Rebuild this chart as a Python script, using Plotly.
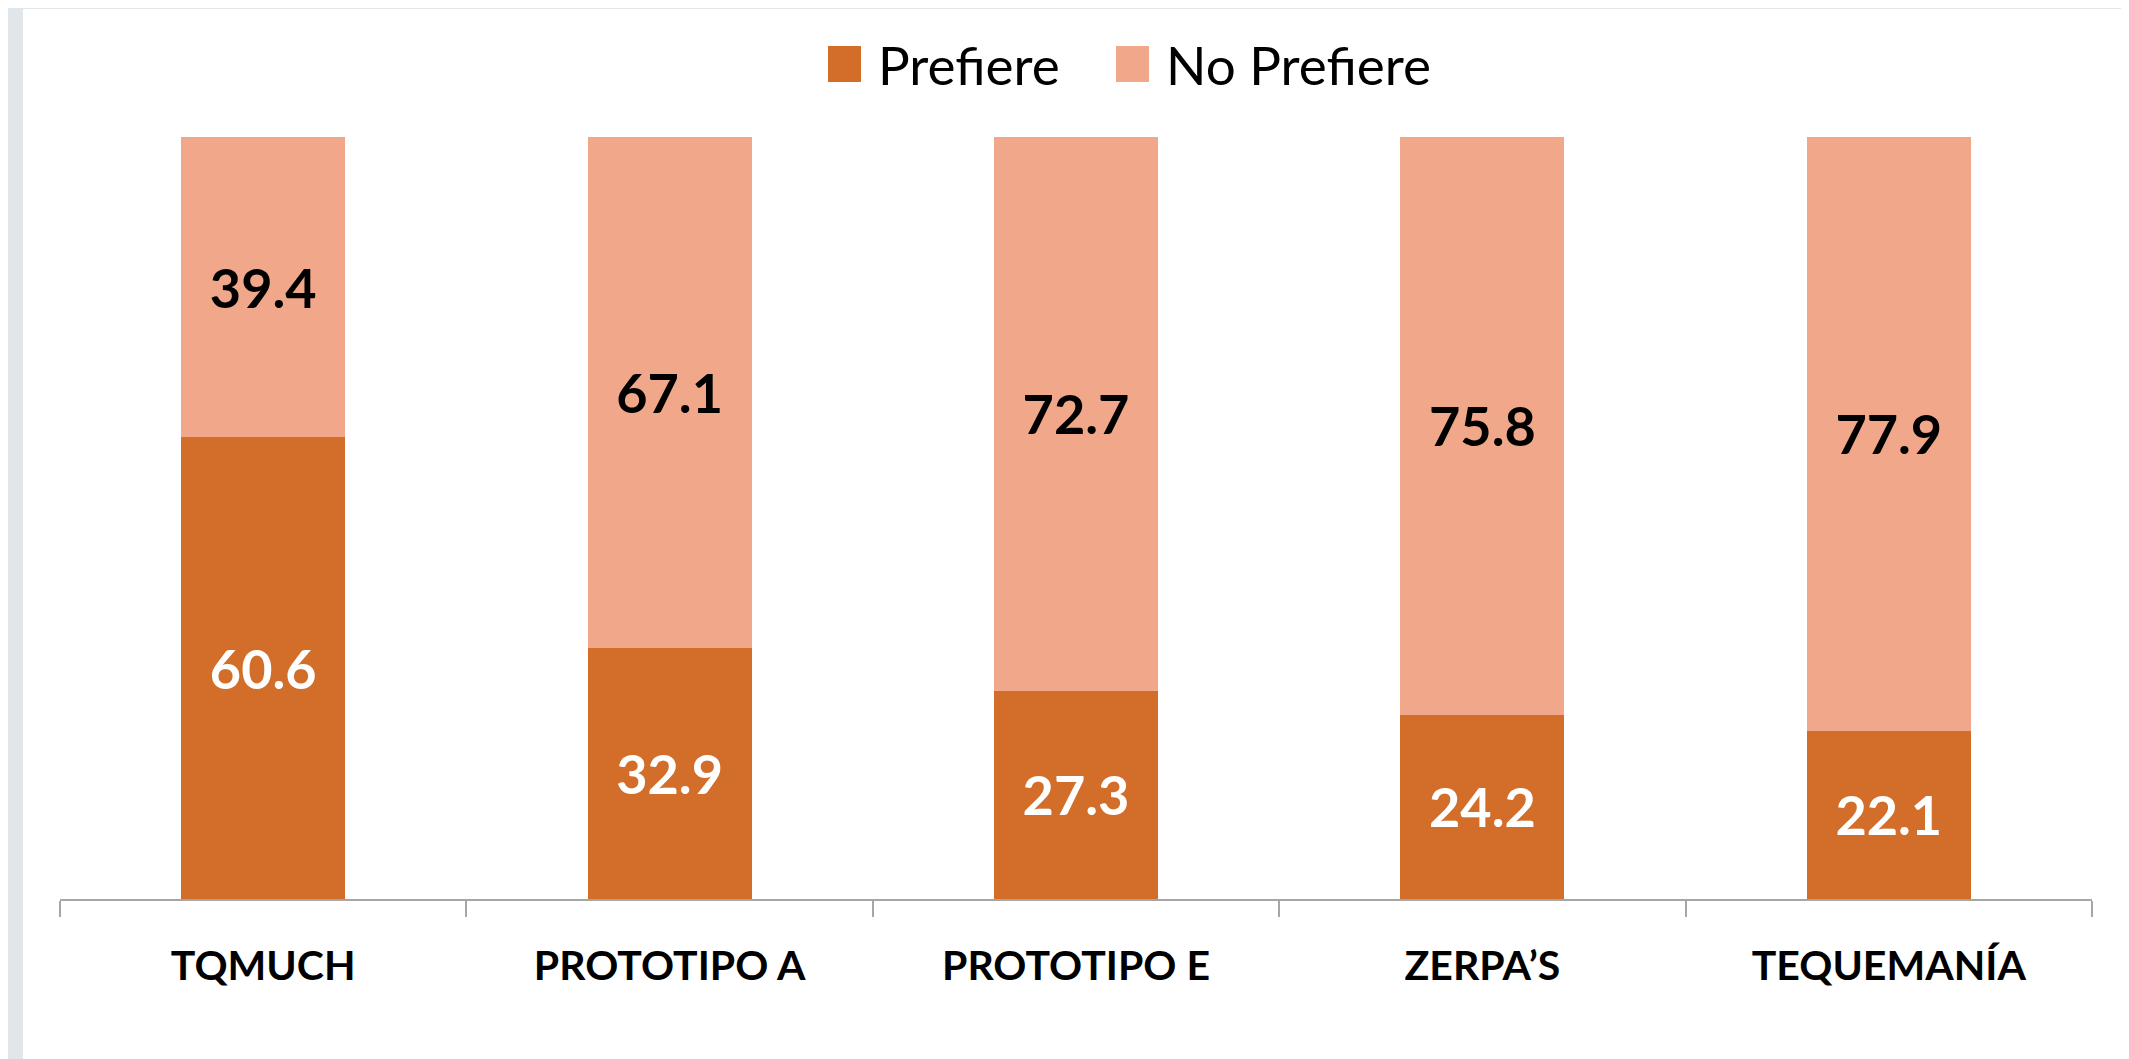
import plotly.graph_objects as go

categories = ["TQMUCH", "PROTOTIPO A", "PROTOTIPO E", "ZERPA’S", "TEQUEMANÍA"]
prefiere = [60.6, 32.9, 27.3, 24.2, 22.1]
no_prefiere = [39.4, 67.1, 72.7, 75.8, 77.9]
series_names = ["Prefiere", "No Prefiere"]

C_DARK = "#D26D2A"
C_LIGHT = "#F0A78A"
FONT = "Lato, 'Open Sans', sans-serif"

# page body has an 8px default margin, so the figure is sized to fit the window
W, H = 2121, 1051
ML, MR, MT, MB = 52, 37, 129, 160
pw, ph = W - ML - MR, H - MT - MB


def px(fx):
    return (fx - ML) / pw


def py(fy):
    return 1 + (MT - fy) / ph


fig = go.Figure()
fig.add_trace(go.Bar(
    x=categories, y=prefiere, name=series_names[0],
    marker=dict(color=C_DARK, line=dict(width=0)),
    text=[f"{v:.1f}" for v in prefiere], textposition="inside",
    insidetextanchor="middle", constraintext="none",
    textfont=dict(family=FONT, size=54, color="white", weight="bold"),
    showlegend=False,
))
fig.add_trace(go.Bar(
    x=categories, y=no_prefiere, name=series_names[1],
    marker=dict(color=C_LIGHT, line=dict(width=0)),
    text=[f"{v:.1f}" for v in no_prefiere], textposition="inside",
    insidetextanchor="middle", constraintext="none",
    textfont=dict(family=FONT, size=54, color="black", weight="bold"),
    showlegend=False,
))

# gray frame strips (top and left)
fig.add_shape(type="rect", xref="paper", yref="paper",
              x0=px(-10), x1=px(W + 10), y0=py(1), y1=py(-10),
              fillcolor="#E1E6EA", line=dict(width=0), layer="below")
fig.add_shape(type="rect", xref="paper", yref="paper",
              x0=px(-10), x1=px(15), y0=py(H + 10), y1=py(-10),
              fillcolor="#E1E6EA", line=dict(width=0), layer="below")

# legend (square swatches + labels)
legend_items = [(series_names[0], C_DARK, 820), (series_names[1], C_LIGHT, 1108)]
for name, col, sx in legend_items:
    fig.add_shape(type="rect", xref="paper", yref="paper",
                  x0=px(sx), x1=px(sx + 33), y0=py(74), y1=py(38),
                  fillcolor=col, line=dict(width=0))
    fig.add_annotation(xref="paper", yref="paper", x=px(sx + 48), y=py(57),
                       xanchor="left", yanchor="middle", showarrow=False,
                       text=name, font=dict(family=FONT, size=53, color="black"))

fig.update_layout(
    width=W, height=H,
    margin=dict(l=ML, r=MR, t=MT, b=MB, pad=0),
    barmode="stack", bargap=0.596,
    paper_bgcolor="white", plot_bgcolor="white",
    font=dict(family=FONT, color="black"),
    showlegend=False,
    xaxis=dict(showline=True, linecolor="#A6A6A6", linewidth=2,
               ticks="outside", tickson="boundaries", ticklen=16,
               tickcolor="#A6A6A6", tickwidth=2,
               tickfont=dict(family=FONT, size=41, color="black", weight="bold"),
               ticklabelstandoff=30, showgrid=False, zeroline=False),
    yaxis=dict(range=[0, 100], visible=False, showgrid=False, zeroline=False),
)

fig.write_html("out.html")
